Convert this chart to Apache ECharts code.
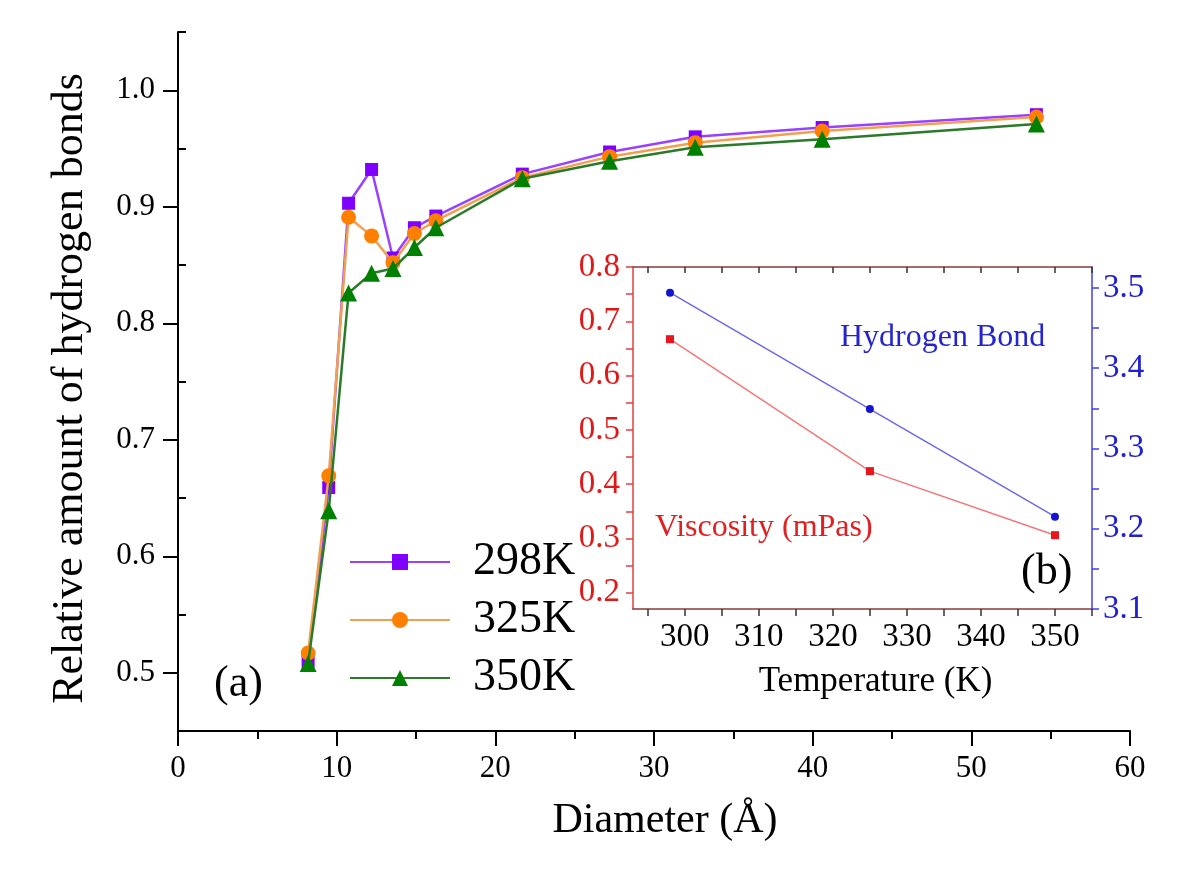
<!DOCTYPE html>
<html>
<head>
<meta charset="utf-8">
<script src="https://cdn.jsdelivr.net/npm/echarts@6/dist/echarts.min.js"></script>
<style>html,body{margin:0;padding:0;background:#fff;}#c{width:1200px;height:893px;}</style>
</head>
<body>
<div id="c"></div>
<script>
// Main panel (a)
const diameter = [8.2, 9.5, 10.75, 12.2, 13.55, 14.9, 16.25, 21.7, 27.2, 32.6, 40.6, 54.1];
const hb298 = [0.510, 0.659, 0.903, 0.932, 0.856, 0.882, 0.892, 0.928, 0.947, 0.960, 0.968, 0.979];
const hb325 = [0.517, 0.669, 0.891, 0.875, 0.852, 0.877, 0.888, 0.925, 0.943, 0.955, 0.965, 0.977];
const hb350 = [0.508, 0.639, 0.826, 0.843, 0.847, 0.865, 0.882, 0.924, 0.939, 0.951, 0.958, 0.971];
const seriesNames = ['298K', '325K', '350K'];
const mainYLabels = [0.5, 0.6, 0.7, 0.8, 0.9, 1.0];
const mainYMinor = [0.45, 0.55, 0.65, 0.75, 0.85, 0.95, 1.05];
// Inset panel (b)
const temperature = [298, 325, 350];
const viscosity = [0.667, 0.424, 0.306];
const hbondCount = [3.494, 3.349, 3.215];
const insetXLabels = [300, 310, 320, 330, 340, 350];
const insetXTicks = [295, 300, 305, 310, 315, 320, 325, 330, 335, 340, 345, 350, 355];
const insetLeftLabels = [0.2, 0.3, 0.4, 0.5, 0.6, 0.7, 0.8];
const insetLeftTicks = [0.2, 0.25, 0.3, 0.35, 0.4, 0.45, 0.5, 0.55, 0.6, 0.65, 0.7, 0.75, 0.8];
const insetRightLabels = [3.1, 3.2, 3.3, 3.4, 3.5];
const insetRightTicks = [3.1, 3.15, 3.2, 3.25, 3.3, 3.35, 3.4, 3.45, 3.5];

const FF = 'Liberation Serif';
const chart = echarts.init(document.getElementById('c'), null, {renderer: 'canvas'});

function pairs(xs, ys) { return xs.map((x, i) => [x, ys[i]]); }

const option = {
  animation: false,
  backgroundColor: '#fff',
  textStyle: {fontFamily: FF},
  grid: [
    {left: 178, right: 70, top: 32, bottom: 162},
    {left: 633, right: 108, top: 267, bottom: 284}
  ],
  legend: {
    data: seriesNames,
    orient: 'vertical',
    left: 349, top: 533,
    padding: 0,
    itemWidth: 100, itemHeight: 20, itemGap: 0,
    textStyle: {fontFamily: FF, fontSize: 46, color: '#000', lineHeight: 58, padding: [0, 0, 0, 18]}
  },
  xAxis: [
    {
      type: 'value', gridIndex: 0, min: 0, max: 60, interval: 10,
      axisLine: {show: true, onZero: false, lineStyle: {color: '#000', width: 2}},
      axisTick: {show: true, inside: false, length: 15, lineStyle: {color: '#000', width: 2}},
      minorTick: {show: true, splitNumber: 2, length: 8, lineStyle: {color: '#000', width: 2}},
      axisLabel: {fontFamily: FF, fontSize: 31, color: '#000', margin: 22},
      splitLine: {show: false},
      name: 'Diameter (Å)', nameLocation: 'middle', nameGap: 69,
      nameTextStyle: {fontFamily: FF, fontSize: 42, color: '#000', padding: [0, 0, 0, 22]}
    },
    {
      type: 'value', gridIndex: 1, min: 293, max: 355, position: 'bottom',
      axisLine: {show: true, onZero: false, lineStyle: {color: '#8a3a3a', width: 1.5}},
      axisTick: {show: true, inside: false, length: 7, customValues: insetXTicks, lineStyle: {color: '#333', width: 1.5}},
      axisLabel: {fontFamily: FF, fontSize: 33, color: '#000', margin: 12, customValues: insetXLabels},
      splitLine: {show: false},
      name: 'Temperature (K)', nameLocation: 'middle', nameGap: 55,
      nameTextStyle: {fontFamily: FF, fontSize: 35, color: '#000', padding: [0, 0, 0, 26]}
    },
    {
      type: 'value', gridIndex: 1, min: 293, max: 355, position: 'top',
      axisLine: {show: true, onZero: false, lineStyle: {color: '#8a3a3a', width: 1.5}},
      axisTick: {show: true, inside: true, length: 6, customValues: insetXTicks, lineStyle: {color: '#333', width: 1.5}},
      axisLabel: {show: false},
      splitLine: {show: false}
    }
  ],
  yAxis: [
    {
      type: 'value', gridIndex: 0, min: 0.45, max: 1.05,
      axisLine: {show: true, onZero: false, lineStyle: {color: '#000', width: 2}},
      axisTick: {show: true, inside: false, length: 15, customValues: mainYLabels, lineStyle: {color: '#000', width: 2}},
      axisLabel: {fontFamily: FF, fontSize: 31, color: '#000', margin: 23, customValues: mainYLabels,
        formatter: v => v.toFixed(1)},
      splitLine: {show: false},
      name: 'Relative amount of hydrogen bonds', nameLocation: 'middle', nameGap: 86, nameRotate: 90,
      nameTextStyle: {fontFamily: FF, fontSize: 44, color: '#000', padding: [0, 14, 0, 0]}
    },
    {
      type: 'value', gridIndex: 0, min: 0.45, max: 1.05,
      axisLine: {show: false},
      axisTick: {show: true, inside: false, length: 8, customValues: mainYMinor, lineStyle: {color: '#000', width: 2}},
      axisLabel: {show: false, customValues: mainYMinor},
      splitLine: {show: false}
    },
    {
      type: 'value', gridIndex: 1, min: 0.17, max: 0.8, position: 'left',
      axisLine: {show: true, onZero: false, lineStyle: {color: '#e04040', width: 1.5}},
      axisTick: {show: true, inside: false, length: 7, customValues: insetLeftTicks, lineStyle: {color: '#e04040', width: 1.5}},
      axisLabel: {fontFamily: FF, fontSize: 33, color: '#e01818', margin: 13, customValues: insetLeftLabels,
        formatter: v => v.toFixed(1)},
      splitLine: {show: false}
    },
    {
      type: 'value', gridIndex: 1, min: 3.1, max: 3.526, position: 'right',
      axisLine: {show: true, onZero: false, lineStyle: {color: '#4040e0', width: 1.5}},
      axisTick: {show: true, inside: false, length: 7, customValues: insetRightTicks, lineStyle: {color: '#4040e0', width: 1.5}},
      axisLabel: {fontFamily: FF, fontSize: 33, color: '#2020d0', margin: 11, customValues: insetRightLabels,
        formatter: v => v.toFixed(1)},
      splitLine: {show: false}
    }
  ],
  series: [
    {
      name: seriesNames[0], type: 'line', xAxisIndex: 0, yAxisIndex: 0,
      data: pairs(diameter, hb298), symbol: 'rect', symbolSize: 13,
      itemStyle: {color: '#8000ff'}, lineStyle: {color: '#9a40ff', width: 2.5}, z: 2
    },
    {
      name: seriesNames[1], type: 'line', xAxisIndex: 0, yAxisIndex: 0,
      data: pairs(diameter, hb325), symbol: 'circle', symbolSize: 15,
      itemStyle: {color: '#ff8000'}, lineStyle: {color: '#f0a050', width: 2.5}, z: 3
    },
    {
      name: seriesNames[2], type: 'line', xAxisIndex: 0, yAxisIndex: 0,
      data: pairs(diameter, hb350), symbol: 'triangle', symbolSize: 17,
      itemStyle: {color: '#008000'}, lineStyle: {color: '#2a7a2a', width: 2.5}, z: 4
    },
    {
      name: 'Viscosity', type: 'line', xAxisIndex: 1, yAxisIndex: 2,
      data: pairs(temperature, viscosity), symbol: 'rect', symbolSize: 8,
      itemStyle: {color: '#e8141e'}, lineStyle: {color: '#f07878', width: 1.5}
    },
    {
      name: 'Hydrogen Bond', type: 'line', xAxisIndex: 1, yAxisIndex: 3,
      data: pairs(temperature, hbondCount), symbol: 'circle', symbolSize: 8,
      itemStyle: {color: '#1414d0'}, lineStyle: {color: '#6a6ae8', width: 1.5}
    }
  ],
  graphic: [
    {type: 'text', left: 214, top: 662, style: {text: '(a)', fontFamily: FF, fontSize: 44, fill: '#000'}},
    {type: 'text', left: 1021, top: 550, style: {text: '(b)', fontFamily: FF, fontSize: 44, fill: '#000'}},
    {type: 'text', left: 840, top: 322, style: {text: 'Hydrogen Bond', fontFamily: FF, fontSize: 32, fill: '#2525d0'}},
    {type: 'text', left: 655, top: 512, style: {text: 'Viscosity (mPas)', fontFamily: FF, fontSize: 32, fill: '#e02020'}}
  ]
};
chart.setOption(option);
</script>
</body>
</html>
